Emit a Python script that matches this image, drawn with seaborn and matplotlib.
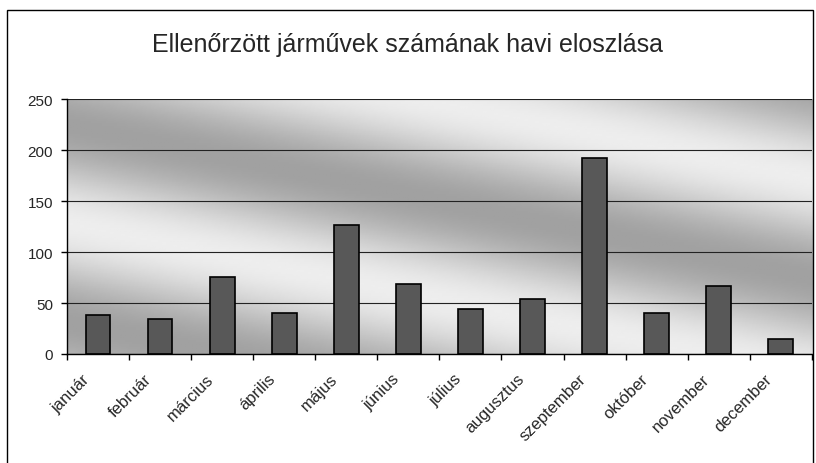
import matplotlib
matplotlib.use("Agg")
import matplotlib.pyplot as plt
import matplotlib.transforms as mtransforms
import seaborn as sns
import numpy as np
from matplotlib.patches import Rectangle

# havi adatok
honapok = ["január", "február", "március", "április", "május", "június",
           "július", "augusztus", "szeptember", "október", "november", "december"]
jarmuvek = [38, 34, 76, 40, 127, 69, 44, 54, 192, 40, 67, 15]
y_ticks = [0, 50, 100, 150, 200, 250]
cim = "Ellenőrzött járművek számának havi eloszlása"

sns.set_style("white")
plt.rcParams["font.family"] = ["Liberation Sans", "DejaVu Sans"]

fig = plt.figure(figsize=(8.16, 4.64), dpi=100)
ax = fig.add_axes([0.082, 0.235, 0.913, 0.549])

# szürke átmenetes háttér (diagonális sávok)
gx, gy = np.meshgrid(np.linspace(0, 1, 200), np.linspace(0, 1, 120))
phase = gy + 0.6 * gx
bg = 0.78 - 0.15 * np.cos(2 * np.pi * (phase - 0.9) / 0.78)
ax.imshow(bg, extent=(-0.5, 11.5, 0, 250), origin="lower", aspect="auto",
          cmap="gray", vmin=0, vmax=1, zorder=0)

sns.barplot(x=honapok, y=jarmuvek, color="#585858", saturation=1,
            edgecolor="black", linewidth=1.2, width=0.4, ax=ax, zorder=2)

ax.set_xlim(-0.5, 11.5)
ax.set_ylim(0, 250)
ax.set_yticks(y_ticks)
ax.set_axisbelow(True)
ax.yaxis.grid(True, color="#222222", linewidth=0.8)
ax.xaxis.grid(False)

for s in ["top", "right"]:
    ax.spines[s].set_visible(False)
for s in ["left", "bottom"]:
    ax.spines[s].set_color("black")
    ax.spines[s].set_linewidth(1)

ax.tick_params(axis="y", direction="out", length=4, width=1, color="black",
               labelsize=11, pad=6, left=True)
ax.set_xticks(np.arange(-0.5, 12, 1), minor=True)
ax.tick_params(axis="x", which="major", length=0, pad=16, labelsize=12)
ax.tick_params(axis="x", which="minor", direction="out", length=4, width=1,
               color="black", bottom=True)
shift = mtransforms.ScaledTranslation(-8 / 72, 0, fig.dpi_scale_trans)
for lbl in ax.get_xticklabels():
    lbl.set_rotation(45)
    lbl.set_ha("right")
    lbl.set_va("center")
    lbl.set_rotation_mode("anchor")
    lbl.set_transform(lbl.get_transform() + shift)
ax.set_xlabel("")
ax.set_ylabel("")

fig.text(0.5, 0.903, cim, fontsize=18, ha="center", va="center")

# diagram keret
fig.patches.append(Rectangle((7 / 816, -0.05), 806 / 816, 1.05 - 11 / 464,
                             transform=fig.transFigure, fill=False,
                             edgecolor="black", linewidth=1))

fig.savefig("out.png", dpi=100)
